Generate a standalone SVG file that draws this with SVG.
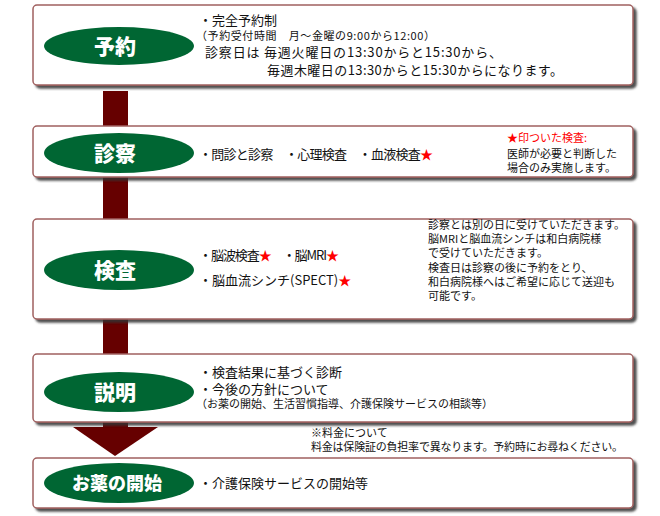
<svg xmlns="http://www.w3.org/2000/svg" width="660" height="516" viewBox="0 0 660 516">
<defs>
<filter id="sh" x="-5%" y="-20%" width="110%" height="140%">
<feDropShadow dx="3" dy="3" stdDeviation="1.2" flood-color="#333" flood-opacity="0.85"/>
</filter>
<style>
.box{fill:#fff;stroke:#a0605f;stroke-width:1.5;filter:url(#sh)}
.ell{fill:#006633}
.lbl{font-family:"Noto Sans CJK JP","Noto Sans",sans-serif;font-weight:900;fill:#fff;text-anchor:middle;font-size:21px}
.t{font-family:"Noto Sans CJK JP","Noto Sans",sans-serif;fill:#111;font-size:13px}
.s{font-family:"Noto Sans CJK JP","Noto Sans",sans-serif;fill:#111;font-size:11px}
.red{fill:#ff0000}
.bar{fill:#660000}
</style>
</defs>
<g id="connectors">
<rect class="bar" x="103" y="91" width="25" height="337"/>
<polygon class="bar" points="73,427 158,427 115,456"/>
</g>
<g id="node-yoyaku">
<rect class="box" x="33" y="5" width="600" height="80" rx="4"/>
<ellipse class="ell" cx="119" cy="46" rx="75" ry="19"/>
<text class="lbl" x="115" y="54">予約</text>
<text class="t" x="199" y="25">・完全予約制</text>
<text class="s" x="196" y="40" textLength="239" lengthAdjust="spacing">（予約受付時間　月～金曜の9:00から12:00）</text>
<text class="t" x="205" y="57" textLength="297" lengthAdjust="spacing">診察日は 毎週火曜日の13:30からと15:30から、</text>
<text class="t" x="267" y="75" textLength="296" lengthAdjust="spacing">毎週木曜日の13:30からと15:30からになります。</text>
</g>
<g id="node-shinsatsu">
<rect class="box" x="33" y="126" width="600" height="51" rx="4"/>
<ellipse class="ell" cx="119" cy="153" rx="75" ry="20"/>
<text class="lbl" x="115" y="161">診察</text>
<text class="t" x="199" y="159" textLength="234" lengthAdjust="spacing">・問診と診察　・心理検査　・血液検査<tspan class="red">★</tspan></text>
<text class="s red" x="507" y="142">★印ついた検査:</text>
<text class="s" x="507" y="158">医師が必要と判断した</text>
<text class="s" x="507" y="172">場合のみ実施します。</text>
</g>
<g id="node-kensa">
<rect class="box" x="33" y="219" width="600" height="100" rx="4"/>
<ellipse class="ell" cx="119" cy="270" rx="75" ry="20"/>
<text class="lbl" x="115" y="278">検査</text>
<text class="t" x="199" y="260" textLength="140" lengthAdjust="spacing">・脳波検査<tspan class="red">★</tspan>　・脳MRI<tspan class="red">★</tspan></text>
<text class="t" x="199" y="285">・脳血流シンチ(SPECT)<tspan class="red">★</tspan></text>
<text class="s" x="428" y="229">診察とは別の日に受けていただきます。</text>
<text class="s" x="428" y="243">脳MRIと脳血流シンチは和白病院様</text>
<text class="s" x="428" y="257">で受けていただきます。</text>
<text class="s" x="428" y="272">検査日は診察の後に予約をとり、</text>
<text class="s" x="428" y="286">和白病院様へはご希望に応じて送迎も</text>
<text class="s" x="428" y="300">可能です。</text>
</g>
<g id="node-setsumei">
<rect class="box" x="33" y="354" width="600" height="68" rx="4"/>
<ellipse class="ell" cx="119" cy="392" rx="75" ry="20"/>
<text class="lbl" x="115" y="400">説明</text>
<text class="t" x="199" y="377">・検査結果に基づく診断</text>
<text class="t" x="199" y="394">・今後の方針について</text>
<text class="s" x="196" y="408">（お薬の開始、生活習慣指導、介護保険サービスの相談等）</text>
</g>
<g id="note-fee">
<text class="s" x="311" y="437">※料金について</text>
<text class="s" x="311" y="451" textLength="312" lengthAdjust="spacing">料金は保険証の負担率で異なります。予約時にお尋ねください。</text>
</g>
<g id="node-okusuri">
<rect class="box" x="33" y="458" width="600" height="50" rx="4"/>
<ellipse class="ell" cx="119" cy="483" rx="75" ry="20"/>
<text class="lbl" x="117" y="490" style="font-size:18px">お薬の開始</text>
<text class="t" x="199" y="488">・介護保険サービスの開始等</text>
</g>
</svg>
